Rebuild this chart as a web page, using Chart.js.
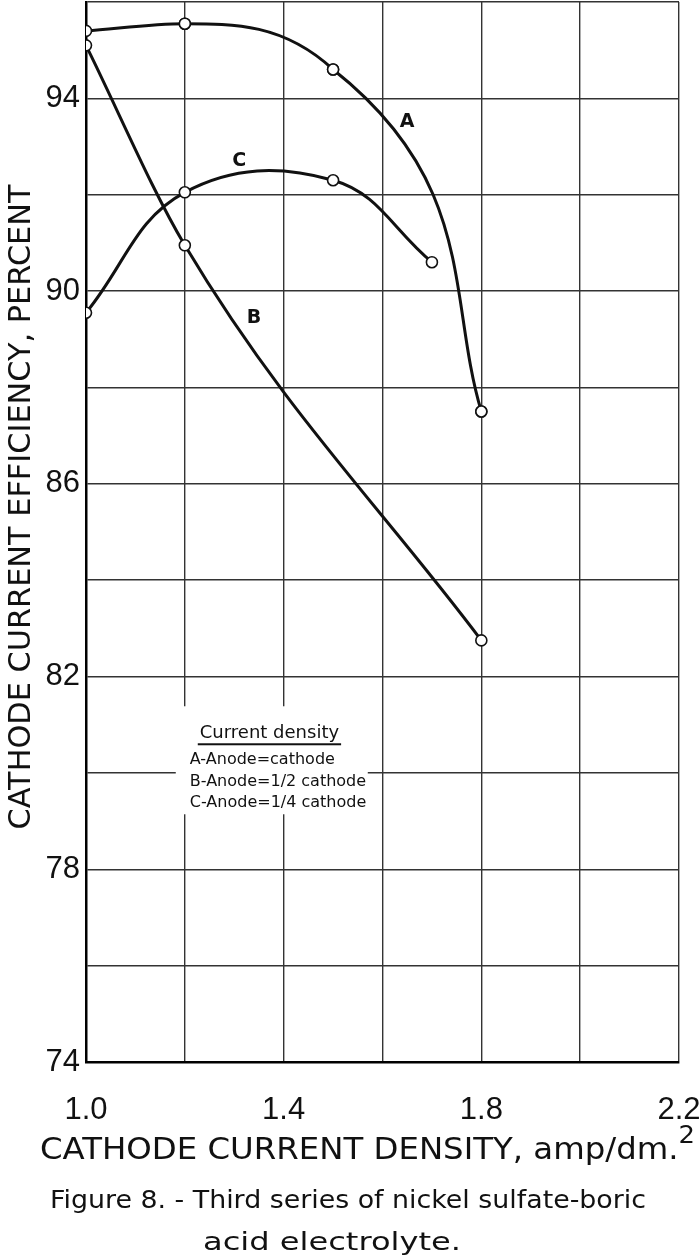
<!DOCTYPE html>
<html>
<head>
<meta charset="utf-8">
<script src="https://cdn.jsdelivr.net/npm/chart.js@4.4.0/dist/chart.umd.min.js"></script>
<style>
  html, body { margin: 0; padding: 0; background: #fff; }
  #wrap { width: 700px; height: 1257px; position: relative; }
</style>
</head>
<body>
<div id="wrap"><canvas id="chart-area"></canvas></div>
<script>
// cathode current density (amp/dm2) and efficiency (%)
var xA = [1.0, 1.2, 1.5, 1.8];
var yA = [95.4, 95.55, 94.6, 87.5];
var xB = [1.0, 1.2, 1.8];
var yB = [95.1, 90.95, 82.75];
var xC = [1.0, 1.2, 1.5, 1.7];
var yC = [89.55, 92.05, 92.3, 90.6];

var curveNames = ['A', 'B', 'C'];
// where each curve letter sits, in data units
var letterX = [1.65, 1.34, 1.31];
var letterY = [93.5, 89.45, 92.7];

var legendTitle = 'Current density';
var legendLines = ['A-Anode=cathode', 'B-Anode=1/2 cathode', 'C-Anode=1/4 cathode'];

var xTickLabels = ['1.0', '1.4', '1.8', '2.2'];
var yTickLabels = [74, 78, 82, 86, 90, 94];

var xTitle = 'CATHODE CURRENT DENSITY, amp/dm.';
var yTitle = 'CATHODE CURRENT EFFICIENCY, PERCENT';
var caption = ['Figure 8. - Third series of nickel sulfate-boric', 'acid electrolyte.'];

var ink = '#111';
var none = 'rgba(0,0,0,0)';

function points(xs, ys) {
  return xs.map(function(x, i) { return { x: x, y: ys[i] }; });
}

function curve(name, xs, ys, extra) {
  var ds = {
    label: name,
    data: points(xs, ys),
    borderColor: ink,
    borderWidth: 3,
    fill: false,
    pointRadius: 5.5,
    pointBackgroundColor: '#fff',
    pointBorderColor: ink,
    pointBorderWidth: 1.6
  };
  return Object.assign(ds, extra);
}

// squeeze text to a given width (the lettering on the original is narrow)
function squeezed(ctx, txt, x, y, w, font, rot) {
  ctx.save();
  ctx.font = font;
  var m = ctx.measureText(txt).width;
  ctx.translate(x, y);
  if (rot) ctx.rotate(rot);
  ctx.scale(w / m, 1);
  ctx.textAlign = 'center';
  ctx.textBaseline = 'alphabetic';
  ctx.fillText(txt, 0, 0);
  ctx.restore();
}

var paperText = {
  id: 'paperText',
  afterDraw: function(chart) {
    var ctx = chart.ctx;
    var xs = chart.scales.x, ys = chart.scales.y;
    ctx.save();
    ctx.fillStyle = ink;

    // y axis title
    squeezed(ctx, yTitle, 30, 507, 645, '30px "DejaVu Sans"', -Math.PI / 2);

    // x axis title with the superscript 2
    ctx.font = '30px "DejaVu Sans"';
    var m1 = ctx.measureText(xTitle).width;
    ctx.font = '24px "DejaVu Sans"';
    var m2 = ctx.measureText('2').width;
    var k = 655 / (m1 + m2);
    ctx.save();
    ctx.translate(40, 1159);
    ctx.scale(k, 1);
    ctx.textAlign = 'left';
    ctx.font = '30px "DejaVu Sans"';
    ctx.fillText(xTitle, 0, 0);
    ctx.font = '24px "DejaVu Sans"';
    ctx.fillText('2', m1, -16);
    ctx.restore();

    // caption
    squeezed(ctx, caption[0], 348, 1208, 596, '24px "DejaVu Sans"');
    squeezed(ctx, caption[1], 332, 1250, 258, '24px "DejaVu Sans"');

    // curve letters
    ctx.font = 'bold 19px "DejaVu Sans"';
    ctx.textAlign = 'center';
    ctx.textBaseline = 'middle';
    curveNames.forEach(function(n, i) {
      ctx.fillText(n, xs.getPixelForValue(letterX[i]), ys.getPixelForValue(letterY[i]));
    });

    // legend block, white behind it so the grid stops
    var lx = xs.getPixelForValue(1.21);
    var ly = ys.getPixelForValue(81.3);
    ctx.fillStyle = '#fff';
    ctx.fillRect(lx - 14, ly - 4, 192, 108);
    ctx.fillStyle = ink;
    ctx.textAlign = 'left';
    ctx.textBaseline = 'alphabetic';
    ctx.font = '18px "DejaVu Sans"';
    var tw = ctx.measureText(legendTitle).width;
    ctx.fillText(legendTitle, lx + 10, ly + 28);
    ctx.fillRect(lx + 8, ly + 33, tw + 4, 2);
    ctx.font = '16px "DejaVu Sans"';
    legendLines.forEach(function(t, i) {
      ctx.fillText(t, lx, ly + 54 + i * 21.5);
    });
    ctx.restore();
  }
};

var ctx = document.getElementById('chart-area').getContext('2d');
var myChart = new Chart(ctx, {
  type: 'line',
  data: {
    datasets: [
      // A: top part follows x, the steep fall to 1.8 follows y
      curve('A', xA, yA, {
        cubicInterpolationMode: 'monotone',
        segment: { borderColor: function(c) { return c.p0DataIndex >= 2 ? none : ink; } }
      }),
      curve('A', xA.slice(1), yA.slice(1), {
        indexAxis: 'y',
        cubicInterpolationMode: 'monotone',
        segment: { borderColor: function(c) { return c.p0DataIndex < 1 ? none : ink; } }
      }),
      curve('B', xB, yB, { cubicInterpolationMode: 'monotone' }),
      curve('C', xC, yC, { tension: 0.4 })
    ]
  },
  options: {
    responsive: true,
    maintainAspectRatio: false,
    animation: false,
    layout: { autoPadding: false, padding: { left: 0, right: 21, top: 2, bottom: 0 } },
    plugins: { legend: { display: false }, tooltip: { enabled: false } },
    scales: {
      x: {
        type: 'linear',
        min: 1.0,
        max: 2.2,
        afterFit: function(s) { s.height = 195; s.paddingLeft = 0; s.paddingRight = 0; },
        grid: { color: '#333', lineWidth: 1.4, drawTicks: false },
        border: { color: '#000', width: 2.5 },
        ticks: {
          stepSize: 0.2,
          padding: 30,
          maxRotation: 0,
          color: ink,
          font: { family: 'Liberation Sans', size: 31 },
          callback: function(v) {
            var t = Number(v).toFixed(1);
            return xTickLabels.indexOf(t) >= 0 ? t : '';
          }
        }
      },
      y: {
        type: 'linear',
        min: 74,
        max: 96,
        afterFit: function(s) { s.width = 86; s.paddingTop = 0; s.paddingBottom = 0; },
        grid: { color: '#333', lineWidth: 1.4, drawTicks: false },
        border: { color: '#000', width: 2.5 },
        ticks: {
          stepSize: 2,
          padding: 6,
          color: ink,
          font: { family: 'Liberation Sans', size: 31 },
          callback: function(v) {
            return yTickLabels.indexOf(Math.round(v)) >= 0 ? String(Math.round(v)) : '';
          }
        }
      }
    }
  },
  plugins: [paperText]
});
</script>
</body>
</html>
